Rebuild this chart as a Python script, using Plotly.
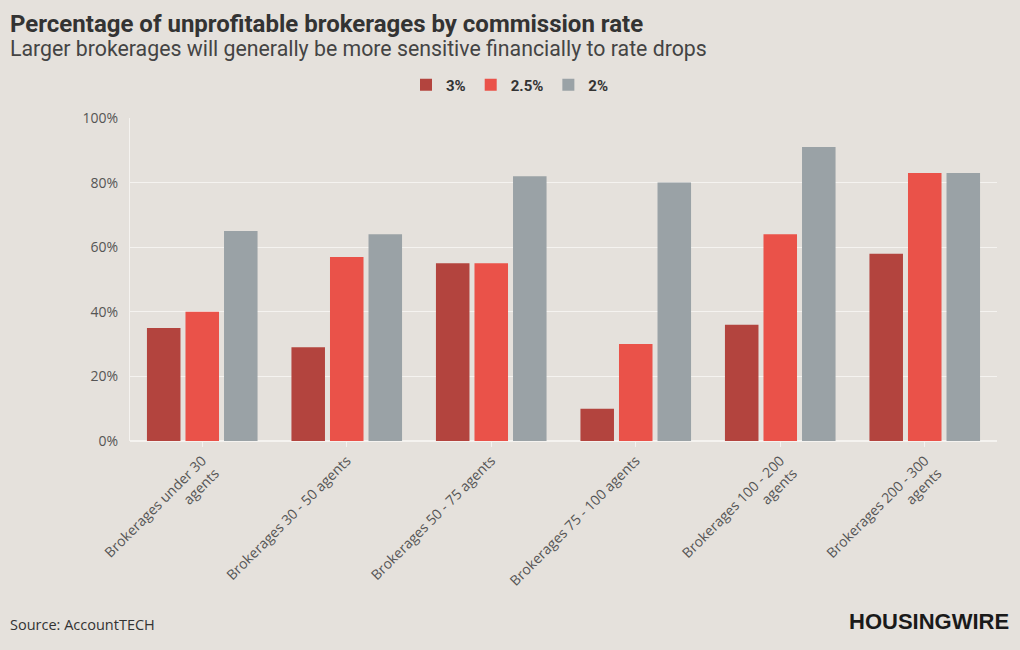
import plotly.graph_objects as go

categories = [
    "Brokerages under 30<br>agents",
    "Brokerages 30 - 50 agents",
    "Brokerages 50 - 75 agents",
    "Brokerages 75 - 100 agents",
    "Brokerages 100 - 200<br>agents",
    "Brokerages 200 - 300<br>agents",
]
series_names = ["3%", "2.5%", "2%"]
rate_3 = [35, 29, 55, 10, 36, 58]
rate_25 = [40, 57, 55, 30, 64, 83]
rate_2 = [65, 64, 82, 80, 91, 83]
colors = ["#b3443e", "#ea5249", "#9aa2a6"]

fig = go.Figure()
for name, vals, c in zip(series_names, [rate_3, rate_25, rate_2], colors):
    fig.add_trace(go.Bar(
        x=categories, y=vals, name=name,
        marker=dict(color=c, line=dict(width=0)),
        hovertemplate="%{y}%<extra>" + name + "</extra>",
    ))

W, H = 1020, 650
bg = "#e5e1dc"
line_c = "#f5f3f0"
fig.update_layout(
    width=W, height=H,
    paper_bgcolor=bg, plot_bgcolor=bg,
    margin=dict(l=130, r=23, t=118, b=209, autoexpand=False),
    barmode="group", bargap=0.2, bargroupgap=0.13,
    font=dict(family="Open Sans, sans-serif", color="#555555", size=14),
    title=dict(
        text="<b>Percentage of unprofitable brokerages by commission rate</b>",
        x=10 / W, xanchor="left", xref="container",
        y=1 - 24 / H, yanchor="middle", yref="container",
        font=dict(size=24, color="#333333", family="Roboto, sans-serif"),
    ),
    showlegend=True,
    legend=dict(
        orientation="h", x=0.5, xanchor="center", xref="container",
        y=1 - 85 / H, yanchor="middle", yref="container",
        font=dict(size=15, color="#333333", family="Roboto, sans-serif", weight="bold"),
        itemwidth=30, traceorder="normal",
        itemclick=False, bgcolor="rgba(0,0,0,0)",
    ),
    xaxis=dict(
        tickangle=-45, showgrid=False, showline=False,
        ticks="outside", tickcolor=line_c, ticklen=5,
        tickfont=dict(size=14, color="#555555", family="Open Sans, sans-serif"),
    ),
    yaxis=dict(
        range=[0, 100], dtick=20, ticksuffix="%",
        showgrid=True, gridcolor=line_c, gridwidth=1,
        showline=True, linecolor=line_c, linewidth=1,
        zeroline=True, zerolinecolor=line_c,
        tickfont=dict(size=14, color="#555555", family="Open Sans, sans-serif"),
        ticks="", ticklabelstandoff=8,
    ),
)

plot_w = W - 130 - 23
plot_h = H - 118 - 209
fig.add_annotation(
    text="Larger brokerages will generally be more sensitive financially to rate drops",
    xref="paper", yref="paper", x=-122 / plot_w, y=1 + (118 - 49) / plot_h,
    xanchor="left", yanchor="middle", showarrow=False,
    font=dict(size=21.3, color="#444444", family="Roboto, sans-serif"),
)
fig.add_annotation(
    text="Source: AccountTECH",
    xref="paper", yref="paper", x=-122 / plot_w, y=-(624 - 441) / plot_h,
    xanchor="left", yanchor="middle", showarrow=False,
    font=dict(size=14.5, color="#333333", family="Open Sans, sans-serif"),
)
fig.add_annotation(
    text="<b>HOUSINGWIRE</b>",
    xref="paper", yref="paper", x=1 + 14 / plot_w, y=-(621 - 441) / plot_h,
    xanchor="right", yanchor="middle", showarrow=False,
    font=dict(size=22, color="#1a1a1a", family="Liberation Sans Narrow, Arial Narrow, sans-serif"),
)

fig.write_html("out.html", post_script="document.body.style.margin='0';",
               config={"displayModeBar": False})
